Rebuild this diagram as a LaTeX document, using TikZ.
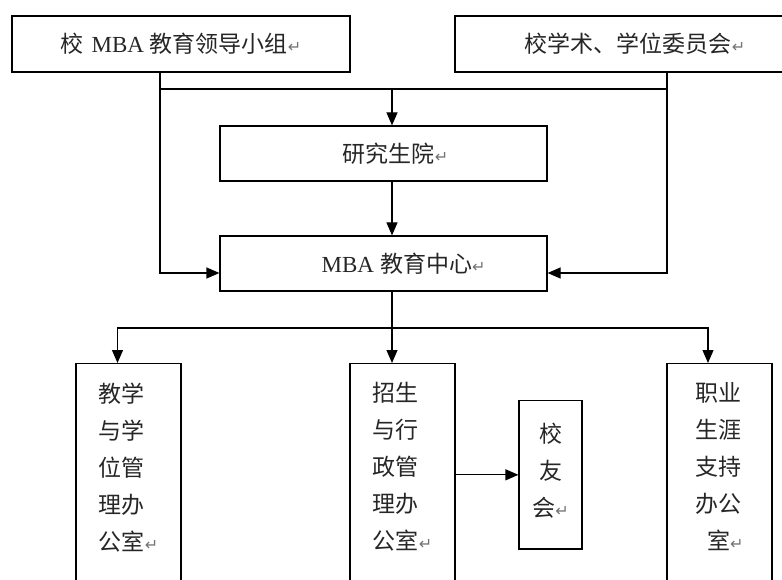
\documentclass[tikz,border=0pt]{standalone}
\usepackage{fontspec}
\setmainfont{Noto Sans CJK SC}
\newfontfamily\latinf{Liberation Serif}
\newfontfamily\symf{DejaVu Sans}
\usetikzlibrary{arrows.meta}

\newcommand\retmark{{\symf\fontsize{16pt}{16pt}\selectfont\textcolor{black!55}{↵}}}
\newcommand\mbatxt{{\latinf MBA}}

\begin{document}
\begin{tikzpicture}[x=1pt, y=-1pt,
    box/.style={draw=black, line width=1.2pt, rectangle, inner sep=0pt,
        text=black!85, font=\fontsize{23pt}{37pt}\selectfont},
    tallbox/.style={box, anchor=north, minimum width=105pt, align=left,
        inner ysep=19pt, text depth=260pt},
    clubbox/.style={box, anchor=north, minimum width=63pt, align=center,
        inner ysep=22pt, text depth=11pt},
    link/.style={line width=1.2pt},
    arr/.style={line width=1.2pt, -{Triangle[length=13pt, width=11pt]}}
]
    \useasboundingbox (0,0) rectangle (782,580);
    \clip (0,0) rectangle (782,580);

    % top level
    \node[box, minimum width=338pt, minimum height=56pt] (lead) at (181,44)
        {校\hspace{8pt}\mbatxt\hspace{6pt}教育领导小组\retmark};
    \node[box, minimum width=360pt, minimum height=56pt] (acad) at (635,44)
        {校学术、学位委员会\retmark};
    \node[box, minimum width=327pt, minimum height=55pt] (yjs) at (383.5,153.5)
        {\hspace*{24pt}研究生院\retmark};
    \node[box, minimum width=327pt, minimum height=55pt] (mba) at (383.5,263.5)
        {\hspace*{40pt}\mbatxt\hspace{6pt}教育中心\retmark};

    % offices
    \node[tallbox] (jxxw) at (128.5,363) {教学\\与学\\位管\\理办\\公室\retmark};
    \node[tallbox] (zsxz) at (402.5,363) {招生\\与行\\政管\\理办\\公室\retmark};
    \node[tallbox] (zysy) at (719.5,363) {职业\\生涯\\支持\\办公\\\hspace{0.5em}室\retmark};
    \node[clubbox] (xyh) at (550.5,400) {校\\友\\会\retmark};

    % connectors
    \coordinate (jl) at (160,89);
    \coordinate (jm) at (392,89);
    \coordinate (jr) at (667,89);
    \coordinate (jb) at (392,328);

    \draw[link] (jl |- lead.south) -- (jl) -- (jr) -- (jr |- acad.south);
    \draw[arr] (jm) -- (jm |- yjs.north);
    \draw[arr] (jm |- yjs.south) -- (jm |- mba.north);
    \draw[arr] (jl) |- ([yshift=-9.5pt]mba.west);
    \draw[arr] (jr) |- ([yshift=-9.5pt]mba.east);

    \draw[link] (jm |- mba.south) -- (jb);
    \draw[arr] (jb) -| ([xshift=-11pt]jxxw.north);
    \draw[arr] (jb) -- ([xshift=-10.5pt]zsxz.north);
    \draw[arr] (jb) -| ([xshift=-11.5pt]zysy.north);
    \draw[arr] (zsxz.east |- xyh.west) -- (xyh.west);
\end{tikzpicture}
\end{document}
